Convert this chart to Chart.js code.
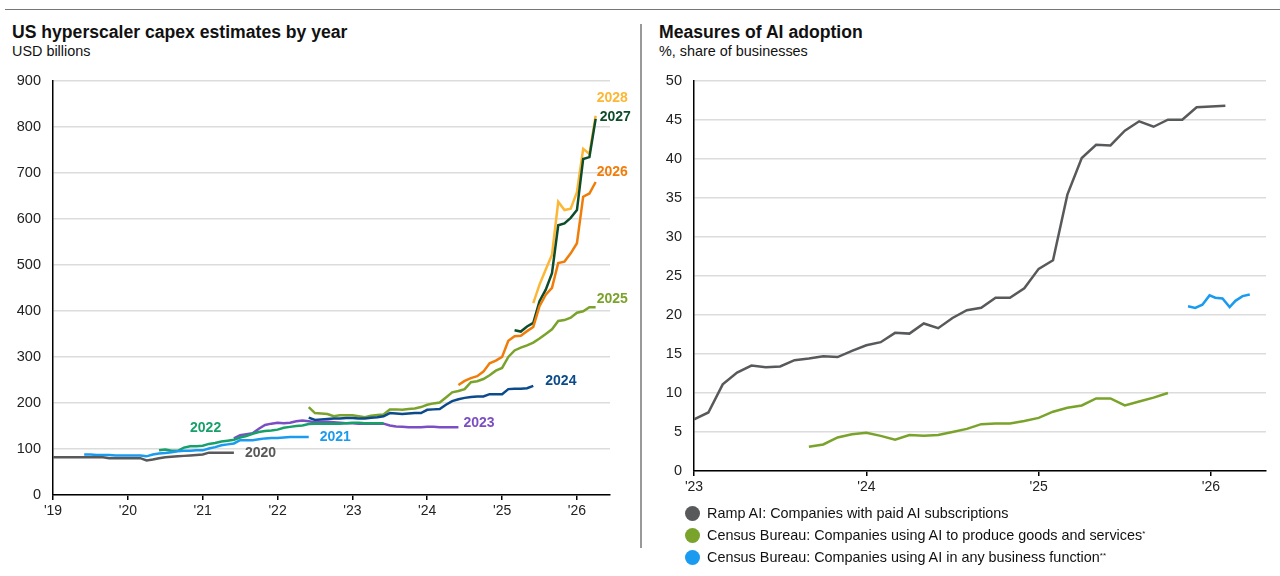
<!DOCTYPE html>
<html>
<head>
<meta charset="utf-8">
<script src="https://cdn.jsdelivr.net/npm/chart.js@4.4.0/dist/chart.umd.min.js"></script>
<style>
  body { margin: 0; width: 1280px; height: 576px; background: #fff; position: relative; overflow: hidden;
         font-family: "Liberation Sans", Arial, sans-serif; color: #111; }
  .topline { position: absolute; left: 5px; right: 0; top: 9px; border-top: 1.5px solid #777; }
  .divider { position: absolute; left: 640px; top: 24px; height: 524px; border-left: 2px solid #999; }
  .title { position: absolute; top: 22px; font-weight: bold; font-size: 17.6px; }
  .sub { position: absolute; top: 43px; font-size: 14.4px; }
  .box { position: absolute; }
  .legend { position: absolute; left: 685px; top: 502px; font-size: 14.4px; color: #111; }
  .legend div { height: 22px; display: flex; align-items: center; }
  .dot { width: 15px; height: 15px; border-radius: 50%; margin-right: 7px; display: inline-block; }
  sup { font-size: 8px; vertical-align: top; position: relative; top: -2px; }
</style>
</head>
<body>
<div class="topline"></div>
<div class="divider"></div>

<div class="title" style="left:12px">US hyperscaler capex estimates by year</div>
<div class="sub" style="left:12px">USD billions</div>
<div class="title" style="left:659px">Measures of AI adoption</div>
<div class="sub" style="left:659px">%, share of businesses</div>

<div class="box" style="left:0; top:60px"><canvas id="capex" width="636" height="470"></canvas></div>
<div class="box" style="left:645px; top:60px"><canvas id="adoption" width="635" height="450"></canvas></div>

<div class="legend">
  <div><span class="dot" style="background:#58595b"></span>Ramp AI: Companies with paid AI subscriptions</div>
  <div><span class="dot" style="background:#7aa32b"></span>Census Bureau: Companies using AI to produce goods and services<sup>*</sup></div>
  <div><span class="dot" style="background:#1a9bf0"></span>Census Bureau: Companies using AI in any business function<sup>**</sup></div>
</div>

<script>
// ---- left chart data: monthly estimates, x = months since Jan 2019 ----
const capexYears = ['2020', '2021', '2022', '2023', '2024', '2025', '2026', '2027', '2028'];
const capexStart = [0, 5, 17, 29, 41, 41, 65, 74, 77];

const capex2020 = [82,82,82,82,82,82,82,82,82,80,80,80,80,80,80,75,77,80,82,83,84,85,86,87,88,92,92,92,92,92];
const capex2021 = [88,88,87,87,87,86,86,86,86,86,84,88,90,91,93,95,96,96,97,97,101,104,108,110,112,119,119,119,121,123,124,124,125,126,126,126,126];
const capex2022 = [97,99,96,96,103,106,106,107,111,113,116,118,120,125,128,133,137,139,140,142,146,148,150,151,154,155,155,155,155,155,156,157,157,156,156,156,156];
const capex2023 = [123,130,132,134,144,152,155,157,156,157,160,162,160,158,159,159,158,157,156,156,155,155,155,155,155,151,149,148,147,147,147,148,148,147,147,147,147];
const capex2024 = [168,163,164,165,166,166,167,167,166,166,168,169,171,178,177,176,177,178,178,185,186,187,196,204,208,211,213,214,214,219,219,219,230,231,231,232,237];
const capex2025 = [191,178,177,176,171,173,173,173,171,169,172,174,175,186,186,185,187,188,191,196,199,201,212,223,226,230,245,247,252,260,270,276,300,314,320,325,331,340,350,360,378,380,385,396,399,408,408];
const capex2026 = [239,248,254,258,268,286,292,300,335,345,346,356,365,410,435,450,504,507,525,547,648,655,680];
const capex2027 = [358,355,366,374,421,446,482,586,590,602,619,730,734,817];
const capex2028 = [417,457,490,522,637,619,622,658,752,741,824];

const capexSeries = [capex2020, capex2021, capex2022, capex2023, capex2024, capex2025, capex2026, capex2027, capex2028];
const capexTicks = [0, 100, 200, 300, 400, 500, 600, 700, 800, 900];
const capexYearTicks = [0, 12, 24, 36, 48, 60, 72, 84];

// ---- right chart data: x = months since Jan 2023 ----
const rampStart = 0;
const rampAI = [6.6,7.5,11.1,12.6,13.5,13.3,13.4,14.2,14.4,14.7,14.6,15.4,16.1,16.5,17.7,17.6,18.9,18.3,19.6,20.6,20.9,22.2,22.2,23.4,25.9,27.0,35.4,40.1,41.8,41.7,43.6,44.8,44.1,45.0,45.0,46.6,46.7,46.8];
const censusGoodsStart = 8;
const censusGoods = [3.1,3.4,4.3,4.7,4.9,4.5,4.0,4.6,4.5,4.6,5.0,5.4,6.0,6.1,6.1,6.4,6.8,7.6,8.1,8.4,9.3,9.3,8.4,8.9,9.4,10.0];
const censusAnyMonths = [34.4,34.9,35.4,35.9,36.3,36.8,37.3,37.7,38.2,38.7];
const censusAny = [21.1,20.9,21.3,22.5,22.2,22.1,21.0,21.8,22.4,22.6];
const adoptionYearTicks = [0, 12, 24, 36];

// ---- styles ----
const FONT = '"Liberation Sans", Arial, sans-serif';
const capexColors = ['#595959', '#1a9bf0', '#18a06a', '#7b4fc4', '#0b4a8b', '#7aa32b', '#f07d0a', '#0e4d2c', '#fbb735'];
// where each series name sits, relative to its last (or first) point, in px
const capexTags = [
  { dx: 11, dy: 0 }, { dx: 11, dy: 0 }, { anchor: 'first', dx: 31, dy: -22 },
  { dx: 5, dy: -4 }, { dx: 12, dy: -5 }, { dx: 1, dy: -8 },
  { dx: 1, dy: -10 }, { dx: 4, dy: -2 }, { dx: 1, dy: -18 }
];

const toPoints = (start, vals) => vals.map((v, i) => ({ x: start + i, y: v }));

const seriesTags = {
  id: 'seriesTags',
  afterDatasetsDraw(chart) {
    const ctx = chart.ctx;
    chart.data.datasets.forEach((ds, i) => {
      if (!ds.tag) return;
      const pts = chart.getDatasetMeta(i).data;
      const p = ds.tag.anchor === 'first' ? pts[0] : pts[pts.length - 1];
      ctx.save();
      ctx.font = 'bold 14px ' + FONT;
      ctx.fillStyle = ds.borderColor;
      ctx.textBaseline = 'middle';
      ctx.fillText(ds.label, p.x + ds.tag.dx, p.y + ds.tag.dy);
      ctx.restore();
    });
  }
};

function yearAxis(min, max, ticks, baseYear, width) {
  return {
    type: 'linear', min: min, max: max,
    afterBuildTicks: s => { s.ticks = ticks.map(v => ({ value: v })); },
    afterFit: s => { s.height = width; },
    grid: { display: true, drawOnChartArea: false, drawTicks: true, tickLength: 5, color: '#000', lineWidth: 1.5 },
    border: { color: '#000', width: 1.5 },
    ticks: {
      padding: 3, color: '#222', font: { family: FONT, size: 14 }, maxRotation: 0,
      callback: v => "'" + String(baseYear + Math.round(v / 12)).padStart(2, '0')
    }
  };
}

function valueAxis(max, ticks, width) {
  return {
    min: 0, max: max,
    afterBuildTicks: s => { s.ticks = ticks.map(v => ({ value: v })); },
    afterFit: s => { s.width = width; },
    grid: { color: '#dcdcdc', lineWidth: 1.5, drawTicks: false },
    border: { color: '#000', width: 1.5 },
    ticks: { padding: 12, color: '#222', font: { family: FONT, size: 14.5 } }
  };
}

new Chart(document.getElementById('capex'), {
  type: 'line',
  data: {
    datasets: capexSeries.map((vals, i) => ({
      label: capexYears[i],
      data: toPoints(capexStart[i], vals),
      borderColor: capexColors[i],
      borderWidth: 2.5,
      pointRadius: 0,
      tension: 0,
      tag: capexTags[i]
    }))
  },
  options: {
    responsive: false, animation: false,
    layout: { padding: { top: 18, right: 26, left: 0, bottom: 0 } },
    plugins: { legend: { display: false }, tooltip: { enabled: false } },
    scales: {
      x: yearAxis(0, 89.3, capexYearTicks, 19, 35),
      y: valueAxis(900, capexTicks, 53)
    }
  },
  plugins: [seriesTags]
});

new Chart(document.getElementById('adoption'), {
  type: 'line',
  data: {
    datasets: [
      { label: 'Ramp AI', data: toPoints(rampStart, rampAI), borderColor: '#58595b' },
      { label: 'Census goods', data: toPoints(censusGoodsStart, censusGoods), borderColor: '#7aa32b' },
      { label: 'Census any', data: censusAnyMonths.map((m, i) => ({ x: m, y: censusAny[i] })), borderColor: '#1a9bf0' }
    ].map(d => Object.assign(d, { borderWidth: 2.5, pointRadius: 0, tension: 0 }))
  },
  options: {
    responsive: false, animation: false,
    layout: { padding: { top: 18, right: 14, left: 0, bottom: 0 } },
    plugins: { legend: { display: false }, tooltip: { enabled: false } },
    scales: {
      x: yearAxis(0, 39.83, adoptionYearTicks, 23, 39),
      y: valueAxis(50, [0, 5, 10, 15, 20, 25, 30, 35, 40, 45, 50], 49)
    }
  }
});
</script>
</body>
</html>
